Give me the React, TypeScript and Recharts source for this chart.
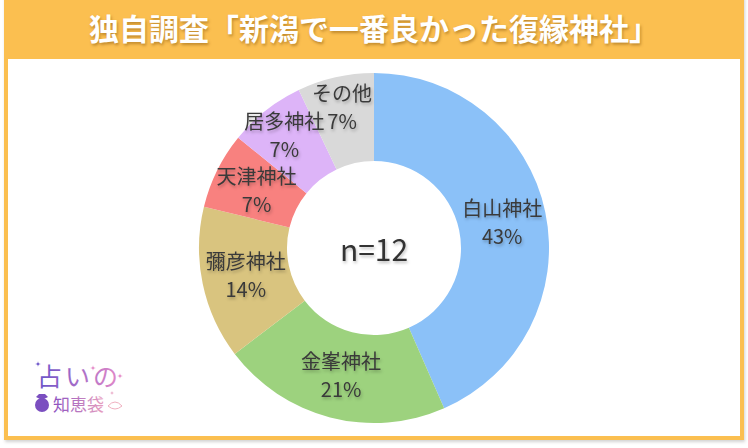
import React from "react";
import { PieChart, Pie, Cell } from "recharts";

const TITLE = "独自調査「新潟で一番良かった復縁神社」";
const categories = ["白山神社", "金峯神社", "彌彦神社", "天津神社", "居多神社", "その他"];
const percents = [43, 21, 14, 7, 7, 7];
const colors = ["#8BC1F8", "#9DD27E", "#D9C47F", "#F8817F", "#DDB4F8", "#D9D9D9"];
const CENTER_LABEL = "n=12";

const data = categories.map((name, i) => ({ name, value: percents[i] }));

const RAD = Math.PI / 180;
const FONT = '"Noto Sans CJK JP", "Noto Sans", sans-serif';
const ORANGE = "#FBBF50";

const renderLabel = (props: any) => {
  const { cx, cy, midAngle, innerRadius, outerRadius, name, value, percent } = props;
  const mid = (innerRadius + outerRadius) / 2;
  const lift = percent < 0.1 && Math.sin(midAngle * RAD) > 0.5 ? 14 : 0;
  const r = mid + lift;
  const x = cx + r * Math.cos(-midAngle * RAD);
  const y = cy + r * Math.sin(-midAngle * RAD);
  return (
    <g style={{ filter: "drop-shadow(1px 2px 1.5px rgba(0,0,0,0.25))" }}>
      <text x={x} y={y - 14} textAnchor="middle" dominantBaseline="central" fill="#3a3a3a" fontSize={20} fontFamily={FONT}>
        {name}
      </text>
      <text x={x} y={y + 14} textAnchor="middle" dominantBaseline="central" fill="#3a3a3a" fontSize={20} fontFamily={FONT}>
        {value}%
      </text>
    </g>
  );
};

const Sparkle = ({ x, y, s, c }: { x: number; y: number; s: number; c: string }) => (
  <path
    d={`M${x} ${y - s} Q${x} ${y} ${x + s} ${y} Q${x} ${y} ${x} ${y + s} Q${x} ${y} ${x - s} ${y} Q${x} ${y} ${x} ${y - s}Z`}
    fill={c}
  />
);

export default function App() {
  return (
    <div style={{ position: "relative", width: 748, height: 448, background: "#fff", fontFamily: FONT, overflow: "hidden" }}>
      <style>{`body{margin:0}`}</style>
      <div
        style={{
          position: "absolute",
          left: 4,
          top: -4,
          width: 740,
          height: 444,
          border: `4px solid ${ORANGE}`,
          boxSizing: "border-box",
          boxShadow: "1px 2px 3px rgba(0,0,0,0.18)",
          background: "#fff",
        }}
      />
      <div style={{ position: "absolute", left: 4, top: 0, width: 740, height: 59, background: ORANGE }} />
      <div
        style={{
          position: "absolute",
          left: 4,
          top: 0,
          width: 740,
          height: 54,
          color: "#fff",
          fontWeight: 700,
          fontSize: 30,
          lineHeight: "54px",
          textAlign: "center",
          textShadow: "1px 2px 3px rgba(120,70,0,0.45)",
          whiteSpace: "nowrap",
        }}
      >
        {TITLE}
      </div>
      <div style={{ position: "absolute", left: 0, top: 0 }}>
        <PieChart width={748} height={448} margin={{ top: 0, right: 0, bottom: 0, left: 0 }}>
          <Pie
            data={data}
            dataKey="value"
            nameKey="name"
            cx={374}
            cy={248}
            innerRadius={87}
            outerRadius={175}
            startAngle={90}
            endAngle={-270}
            stroke="none"
            label={renderLabel}
            labelLine={false}
            isAnimationActive={false}
          >
            {data.map((d, i) => (
              <Cell key={d.name} fill={colors[i]} />
            ))}
          </Pie>
          <text
            x={374}
            y={248}
            textAnchor="middle"
            dominantBaseline="central"
            fontSize={30}
            fill="#333"
            fontFamily={FONT}
            style={{ filter: "drop-shadow(1px 2px 1.5px rgba(0,0,0,0.25))" }}
          >
            {CENTER_LABEL}
          </text>
        </PieChart>
      </div>
      <svg style={{ position: "absolute", left: 0, top: 340 }} width={200} height={100}>
        <defs>
          <linearGradient id="lg1" x1="0" x2="1" y1="0" y2="0">
            <stop offset="0" stopColor="#6A52C8" />
            <stop offset="1" stopColor="#E58AC8" />
          </linearGradient>
          <linearGradient id="lg2" x1="0" x2="1" y1="0" y2="0">
            <stop offset="0" stopColor="#8A4FC0" />
            <stop offset="1" stopColor="#E8A0C0" />
          </linearGradient>
        </defs>
        <text x={37} y={46} fontSize={25} fill="url(#lg1)" fontFamily={FONT} letterSpacing={3}>
          占いの
        </text>
        <Sparkle x={38} y={24} s={3} c="#6A52C8" />
        <Sparkle x={93} y={28} s={3} c="#E58AC8" />
        <Sparkle x={120} y={36} s={3} c="#E58AC8" />
        <Sparkle x={112} y={53} s={2} c="#E8A0C0" />
        <circle cx={42} cy={65} r={7} fill="#7B4FC0" />
        <path d="M36 57 L42 60 L48 57 L45 54 L39 54Z" fill="#7B4FC0" />
        <text x={53} y={71} fontSize={17} fill="url(#lg2)" fontFamily={FONT}>
          知恵袋
        </text>
        <path d="M108 66 Q115 58 122 66 Q115 72 108 66" fill="none" stroke="#F0B0C0" strokeWidth={1} />
      </svg>
    </div>
  );
}
